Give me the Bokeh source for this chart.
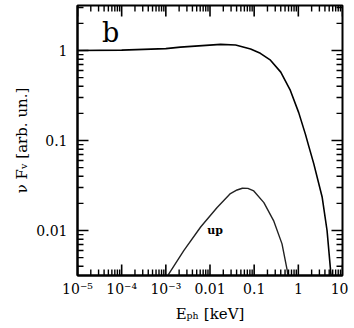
from bokeh.plotting import figure
from bokeh.models import Range1d, FixedTicker, Label
from bokeh.embed import file_html
from bokeh.resources import INLINE

# main spectrum (total)
main_E = [1e-5, 1e-4, 1e-3, 2.14e-3, 0.0174, 0.038, 0.083, 0.138, 0.234, 0.40, 0.66,
          1.02, 1.45, 1.74, 2.24, 3.47, 4.47, 5.37, 5.75]
main_F = [1.0, 1.01, 1.05, 1.09, 1.17, 1.15, 1.04, 0.93, 0.78, 0.575, 0.36,
          0.204, 0.117, 0.085, 0.055, 0.0234, 0.010, 0.0036, 0.0025]

# "up" component
up_E = [1.0e-3, 1.17e-3, 2.57e-3, 6.2e-3, 0.0145, 0.029, 0.041, 0.054, 0.072, 0.098, 0.166,
        0.275, 0.427, 0.56, 0.60]
up_F = [0.0027, 0.0033, 0.0060, 0.011, 0.018, 0.0257, 0.0282, 0.0295, 0.0294, 0.0275, 0.0204,
        0.0129, 0.0071, 0.0036, 0.0028]

x_ticks = [1e-5, 1e-4, 1e-3, 0.01, 0.1, 1, 10]
x_tick_labels = ["10\u207b\u2075", "10\u207b\u2074", "10\u207b\u00b3", "0.01", "0.1", "1", "10"]
y_ticks = [0.01, 0.1, 1]
y_tick_labels = ["0.01", "0.1", "1"]

x_minor = [k * 10.0 ** n for n in range(-5, 1) for k in range(2, 10)]
y_minor = [k * 10.0 ** n for n in range(-3, 1) for k in range(2, 10) if 0.0032 < k * 10.0 ** n < 3.1]

FONT = "DejaVu Serif"
XMIN, XMAX = 1e-5, 10.0
YMIN, YMAX = 10 ** -2.5, 10 ** 0.5
FW, FH = 265, 270
PPD_X = FW / 6.0   # pixels per decade
PPD_Y = FH / 3.0
MAJ, MIN = 11, 6   # tick lengths, px

p = figure(x_axis_type="log", y_axis_type="log",
           x_range=Range1d(XMIN, XMAX), y_range=Range1d(YMIN, YMAX),
           frame_width=FW, frame_height=FH,
           min_border_left=77, min_border_right=6, min_border_top=5, min_border_bottom=46,
           output_backend="svg", toolbar_location=None, title=None)
p.background_fill_color = "white"
p.border_fill_color = "white"
p.outline_line_color = "black"
p.outline_line_width = 2
p.xgrid.visible = False
p.ygrid.visible = False

p.line(main_E, main_F, line_color="black", line_width=1.6)
p.line(up_E, up_F, line_color="#222222", line_width=1.4)

# inward ticks on all four sides, drawn through the log scales
def xticks(ticks, length, w):
    f = 10 ** (length / PPD_Y)
    n = len(ticks)
    p.segment(x0=ticks, y0=[YMIN] * n, x1=ticks, y1=[YMIN * f] * n, line_color="black", line_width=w)
    p.segment(x0=ticks, y0=[YMAX] * n, x1=ticks, y1=[YMAX / f] * n, line_color="black", line_width=w)


def yticks(ticks, length, w):
    f = 10 ** (length / PPD_X)
    n = len(ticks)
    p.segment(x0=[XMIN] * n, y0=ticks, x1=[XMIN * f] * n, y1=ticks, line_color="black", line_width=w)
    p.segment(x0=[XMAX] * n, y0=ticks, x1=[XMAX / f] * n, y1=ticks, line_color="black", line_width=w)


xticks(x_ticks, MAJ, 1.6)
xticks(x_minor, MIN, 1.4)
yticks(y_ticks, MAJ, 1.6)
yticks(y_minor, MIN, 1.4)


def style(ax, ticks, overrides):
    ax.ticker = FixedTicker(ticks=ticks, minor_ticks=[])
    ax.major_tick_in = 0
    ax.major_tick_out = 0
    ax.minor_tick_in = 0
    ax.minor_tick_out = 0
    ax.axis_line_color = "black"
    ax.axis_line_width = 2
    ax.major_label_overrides = {t: s for t, s in zip(ticks, overrides)}
    ax.major_label_text_font = FONT
    ax.major_label_text_font_size = "14px"
    ax.major_label_text_color = "black"
    ax.axis_label_text_font = FONT
    ax.axis_label_text_font_size = "15px"
    ax.axis_label_text_font_style = "normal"
    ax.axis_label_text_color = "black"


xa = p.xaxis[0]
style(xa, x_ticks, x_tick_labels)
xa.axis_label = "E\u209a\u2095 [keV]"
xa.major_label_standoff = 5
xa.axis_label_standoff = 5

ya = p.yaxis[0]
style(ya, y_ticks, y_tick_labels)
ya.axis_label = "\u03bd F\u1d65 [arb. un.]"
ya.major_label_standoff = 10
ya.axis_label_standoff = 2

p.add_layout(Label(x=3.6e-5, y=1.58, text="b", text_font=FONT, text_font_size="27px",
                   text_color="black", text_baseline="alphabetic"))
p.add_layout(Label(x=8.7e-3, y=0.0101, text="up", text_font=FONT, text_font_size="11px",
                   text_font_style="bold", text_color="black", text_baseline="alphabetic"))

open("out.html", "w").write(file_html(p, INLINE))
